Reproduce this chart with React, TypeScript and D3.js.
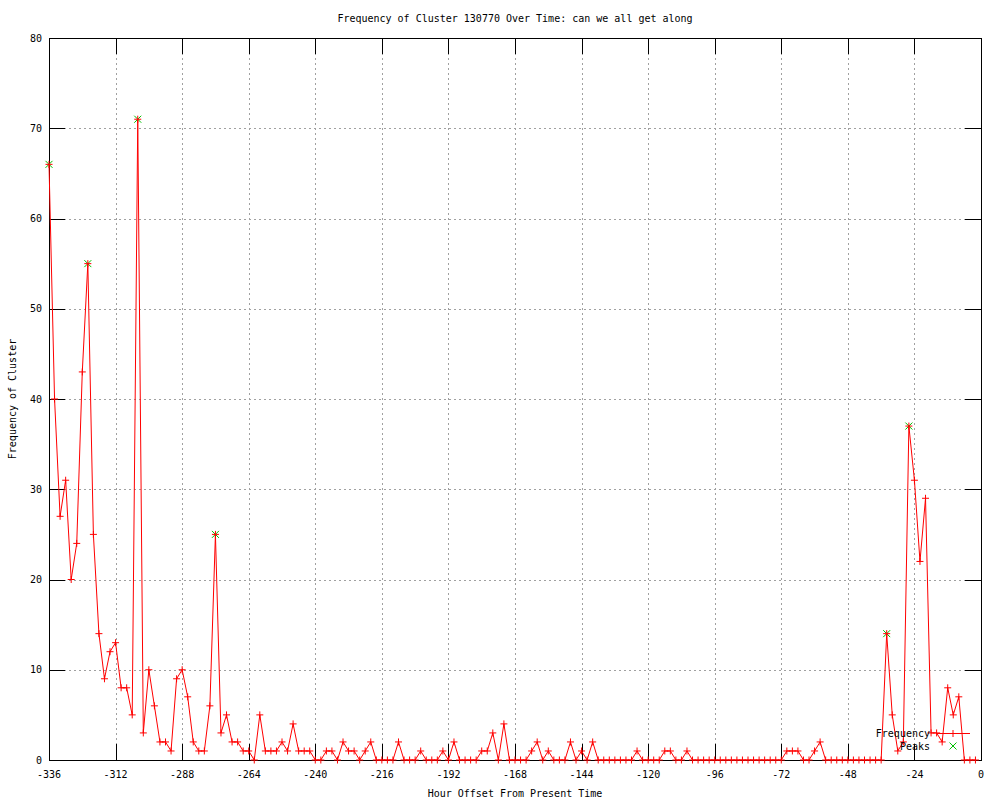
import React from "react";
import * as d3 from "d3";

const title = "Frequency of Cluster 130770 Over Time: can we all get along";
const xLabel = "Hour Offset From Present Time";
const yLabel = "Frequency of Cluster";

const hours = [
  -336, -334, -332, -330, -328, -326, -324, -322, -320, -318, -316, -314, -312, -310, -308, -306,
  -304, -302, -300, -298, -296, -294, -292, -290, -288, -286, -284, -282, -280, -278, -276, -274,
  -272, -270, -268, -266, -264, -262, -260, -258, -256, -254, -252, -250, -248, -246, -244, -242,
  -240, -238, -236, -234, -232, -230, -228, -226, -224, -222, -220, -218, -216, -214, -212, -210,
  -208, -206, -204, -202, -200, -198, -196, -194, -192, -190, -188, -186, -184, -182, -180, -178,
  -176, -174, -172, -170, -168, -166, -164, -162, -160, -158, -156, -154, -152, -150, -148, -146,
  -144, -142, -140, -138, -136, -134, -132, -130, -128, -126, -124, -122, -120, -118, -116, -114,
  -112, -110, -108, -106, -104, -102, -100, -98, -96, -94, -92, -90, -88, -86, -84, -82,
  -80, -78, -76, -74, -72, -70, -68, -66, -64, -62, -60, -58, -56, -54, -52, -50,
  -48, -46, -44, -42, -40, -38, -36, -34, -32, -30, -28, -26, -24, -22, -20, -18,
  -16, -14, -12, -10, -8, -6, -4, -2,
];

const frequency = [
  66, 40, 27, 31, 20, 24, 43, 55, 25, 14, 9, 12, 13, 8, 8, 5,
  71, 3, 10, 6, 2, 2, 1, 9, 10, 7, 2, 1, 1, 6, 25, 3,
  5, 2, 2, 1, 1, 0, 5, 1, 1, 1, 2, 1, 4, 1, 1, 1,
  0, 0, 1, 1, 0, 2, 1, 1, 0, 1, 2, 0, 0, 0, 0, 2,
  0, 0, 0, 1, 0, 0, 0, 1, 0, 2, 0, 0, 0, 0, 1, 1,
  3, 0, 4, 0, 0, 0, 0, 1, 2, 0, 1, 0, 0, 0, 2, 0,
  1, 0, 2, 0, 0, 0, 0, 0, 0, 0, 1, 0, 0, 0, 0, 1,
  1, 0, 0, 1, 0, 0, 0, 0, 0, 0, 0, 0, 0, 0, 0, 0,
  0, 0, 0, 0, 0, 1, 1, 1, 0, 0, 1, 2, 0, 0, 0, 0,
  0, 0, 0, 0, 0, 0, 0, 14, 5, 1, 2, 37, 31, 22, 29, 3,
  3, 2, 8, 5, 7, 0, 0, 0,
];

const peakHours = [-336, -322, -304, -276, -34, -26];
const peakValues = [66, 55, 71, 25, 14, 37];

const xTicks = [-336, -312, -288, -264, -240, -216, -192, -168, -144, -120, -96, -72, -48, -24, 0];
const yTicks = [0, 10, 20, 30, 40, 50, 60, 70, 80];

const W = 1000;
const H = 800;
const L = 49;
const R = 981;
const T = 38;
const B = 760;
const TICK = 16;
const FONT = "'DejaVu Sans Mono', monospace";
const RED = "#ff0000";
const GREEN = "#00c000";

function Plus({ x, y }: { x: number; y: number }) {
  const s = 3.5;
  return (
    <path d={`M${x - s},${y}H${x + s}M${x},${y - s}V${y + s}`} stroke={RED} strokeWidth={1} fill="none" />
  );
}

function Cross({ x, y }: { x: number; y: number }) {
  const s = 3.5;
  return (
    <path
      d={`M${x - s},${y - s}L${x + s},${y + s}M${x - s},${y + s}L${x + s},${y - s}`}
      stroke={GREEN}
      strokeWidth={1}
      fill="none"
    />
  );
}

export default function App() {
  const x = d3.scaleLinear().domain([-336, 0]).range([L, R]);
  const y = d3.scaleLinear().domain([0, 80]).range([B, T]);
  const data = hours.map((h, i) => [h, frequency[i]] as [number, number]);
  const line = d3
    .line<[number, number]>()
    .x((d) => x(d[0]))
    .y((d) => y(d[1]));

  const legendX = 953;
  const legendY1 = 733;
  const legendY2 = 746;

  return (
    <svg
      width={W}
      height={H}
      style={{ position: "absolute", left: 0, top: 0, background: "#fff" }}
      fontFamily={FONT}
      fontSize={10}
    >
      <rect x={0} y={0} width={W} height={H} fill="#fff" />
      {/* grid */}
      <g stroke="#a0a0a0" strokeWidth={1} strokeDasharray="2,3" shapeRendering="crispEdges">
        {xTicks.map((t) => (
          <line key={"gx" + t} x1={Math.round(x(t)) + 0.5} x2={Math.round(x(t)) + 0.5} y1={T} y2={B} />
        ))}
        {yTicks.map((t) => (
          <line key={"gy" + t} x1={L} x2={R} y1={Math.round(y(t)) + 0.5} y2={Math.round(y(t)) + 0.5} />
        ))}
      </g>
      {/* ticks */}
      <g stroke="#000" strokeWidth={1} shapeRendering="crispEdges">
        {xTicks.map((t) => {
          const px = Math.round(x(t)) + 0.5;
          return (
            <g key={"tx" + t}>
              <line x1={px} x2={px} y1={B} y2={B - TICK} />
              <line x1={px} x2={px} y1={T} y2={T + TICK} />
            </g>
          );
        })}
        {yTicks.map((t) => {
          const py = Math.round(y(t)) + 0.5;
          return (
            <g key={"ty" + t}>
              <line x1={L} x2={L + TICK} y1={py} y2={py} />
              <line x1={R} x2={R - TICK} y1={py} y2={py} />
            </g>
          );
        })}
        <rect x={L + 0.5} y={T + 0.5} width={R - L} height={B - T} fill="none" />
      </g>
      {/* tick labels */}
      <g fill="#000">
        {xTicks.map((t) => (
          <text key={"lx" + t} x={x(t)} y={778} textAnchor="middle">
            {t}
          </text>
        ))}
        {yTicks.map((t) => (
          <text key={"ly" + t} x={42} y={y(t) + 3.5} textAnchor="end">
            {t}
          </text>
        ))}
      </g>
      {/* titles */}
      <text x={515} y={22} textAnchor="middle">
        {title}
      </text>
      <text x={515} y={797} textAnchor="middle">
        {xLabel}
      </text>
      <text x={0} y={0} textAnchor="middle" transform={`translate(16,${(T + B) / 2}) rotate(-90)`}>
        {yLabel}
      </text>
      {/* peaks (under the frequency markers) */}
      {peakHours.map((h, i) => (
        <Cross key={"k" + i} x={x(h)} y={y(peakValues[i])} />
      ))}
      {/* data */}
      <path d={line(data) || ""} fill="none" stroke={RED} strokeWidth={1} />
      {data.map((d, i) => (
        <Plus key={"p" + i} x={x(d[0])} y={y(d[1])} />
      ))}
      {/* legend */}
      <text x={930} y={legendY1 + 3.5} textAnchor="end">
        Frequency
      </text>
      <line x1={936} x2={970} y1={legendY1 + 0.5} y2={legendY1 + 0.5} stroke={RED} strokeWidth={1} />
      <Plus x={legendX} y={legendY1 + 0.5} />
      <text x={930} y={legendY2 + 3.5} textAnchor="end">
        Peaks
      </text>
      <Cross x={legendX} y={legendY2} />
    </svg>
  );
}
